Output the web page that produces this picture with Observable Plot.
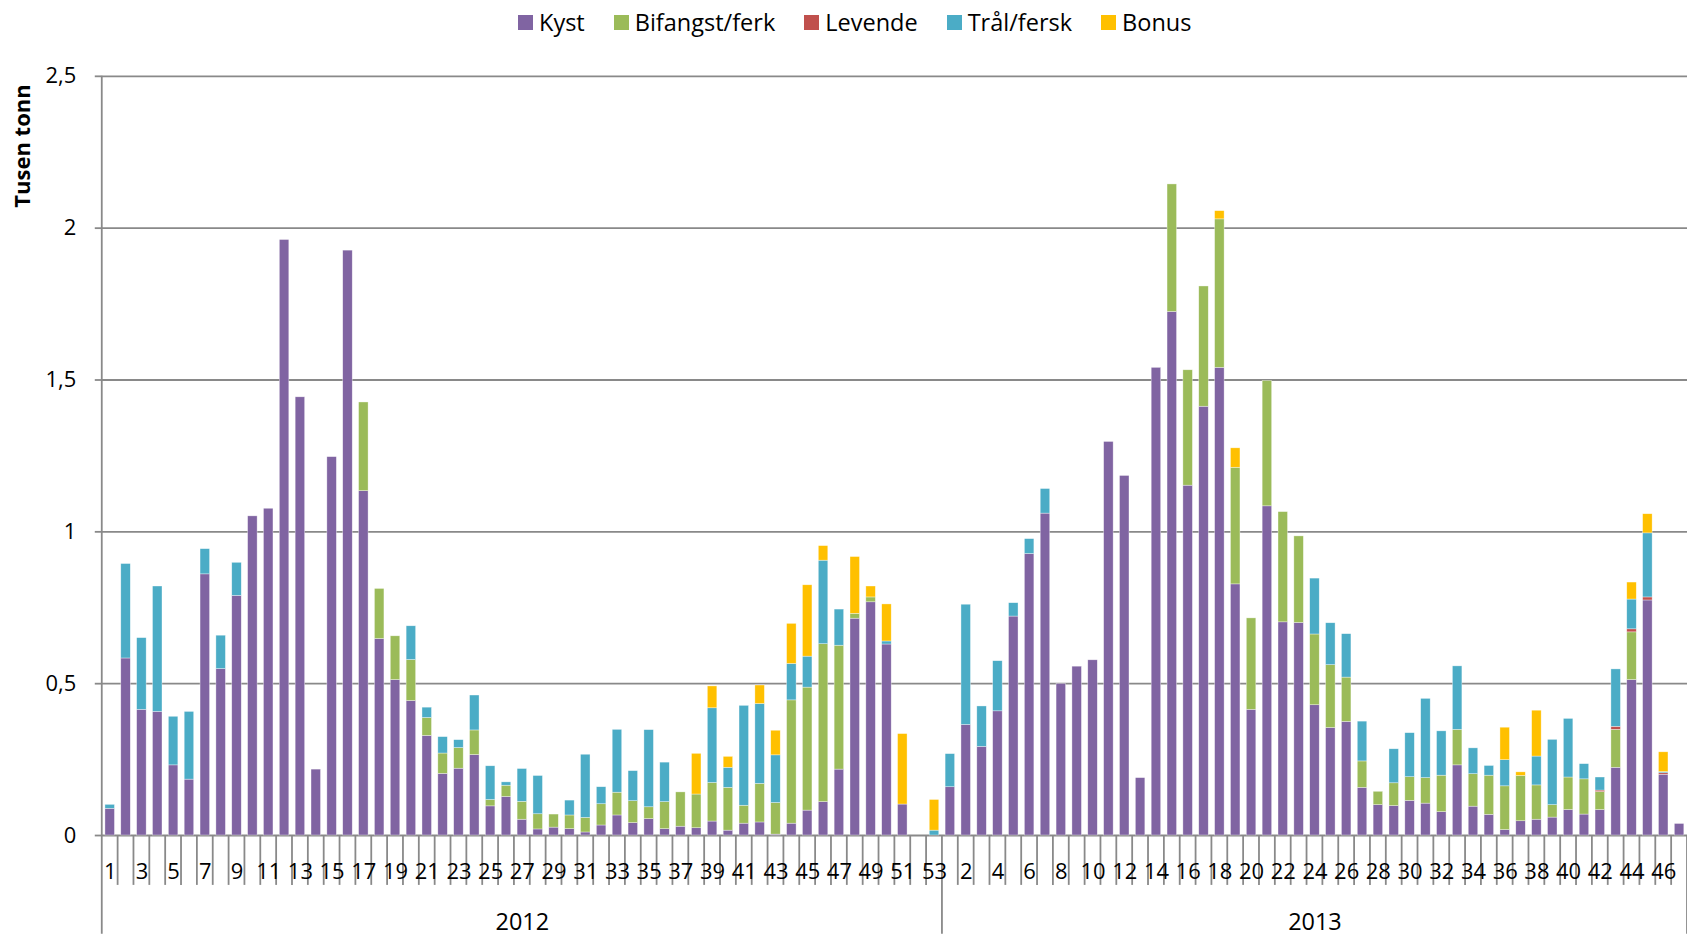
<!DOCTYPE html>
<html><head><meta charset="utf-8">
<script src="https://cdn.jsdelivr.net/npm/d3@7"></script>
<script src="https://cdn.jsdelivr.net/npm/@observablehq/plot@0.6"></script>
<style>
html,body{margin:0;padding:0;background:#fff;overflow:hidden;}
#wrap{position:relative;width:1687px;height:936px;overflow:hidden;font-family:"Open Sans",sans-serif;color:#000;}
#legend{position:absolute;top:6px;left:518px;display:flex;align-items:center;font-size:23.5px;white-space:nowrap;}
.item{display:flex;align-items:center;margin-right:29px;}
.sw{width:15px;height:15px;margin-right:6px;}
#ytitle{position:absolute;left:21px;top:146px;transform:translate(-50%,-50%) rotate(-90deg);font-weight:bold;font-size:22px;white-space:nowrap;}
</style></head>
<body><div id="wrap"><div id="chart"></div><div id="legend"></div><div id="ytitle">Tusen tonn</div></div>
<script>
const seriesNames = ["Kyst", "Bifangst/ferk", "Levende", "Trål/fersk", "Bonus"];
const seriesColors = ["#8064A2", "#9BBB59", "#C0504D", "#4BACC6", "#FFC000"];
const years = ["2012", "2013"];
const weeks2012 = d3.range(1, 54);
const weeks2013 = d3.range(1, 48);
const yTicks = [0, 0.5, 1, 1.5, 2, 2.5];

const kyst2012 = [0.088,0.583,0.414,0.407,0.231,0.184,0.860,0.548,0.789,1.051,1.076,1.961,1.443,0.217,1.246,1.926,1.134,0.647,0.512,0.443,0.328,0.203,0.220,0.265,0.096,0.127,0.052,0.020,0.026,0.021,0.010,0.033,0.066,0.041,0.054,0.021,0.029,0.024,0.046,0.016,0.039,0.043,0.003,0.039,0.082,0.110,0.217,0.714,0.768,0.629,0.102,0,0];
const bifangst2012 = [0,0,0,0,0,0,0,0,0,0,0,0,0,0,0,0,0.292,0.165,0.144,0.135,0.059,0.067,0.068,0.081,0.021,0.037,0.059,0.050,0.043,0.045,0.048,0.070,0.075,0.072,0.039,0.089,0.113,0.111,0.127,0.141,0.059,0.127,0.104,0.406,0.405,0.520,0.408,0.016,0.016,0,0,0,0];
const levende2012 = [0,0,0,0,0,0,0,0,0,0,0,0,0,0,0,0,0,0,0,0,0,0,0,0,0,0,0,0,0,0,0,0,0,0,0,0,0,0,0,0,0,0,0,0,0,0,0,0,0,0,0,0,0];
const tral2012 = [0.013,0.311,0.236,0.413,0.160,0.223,0.083,0.110,0.109,0,0,0,0,0,0,0,0,0,0,0.111,0.034,0.054,0.026,0.115,0.111,0.011,0.108,0.126,0,0.049,0.208,0.056,0.207,0.099,0.254,0.130,0,0,0.246,0.066,0.329,0.263,0.157,0.120,0.102,0.275,0.119,0,0,0.010,0,0,0.016];
const bonus2012 = [0,0,0,0,0,0,0,0,0,0,0,0,0,0,0,0,0,0,0,0,0,0,0,0,0,0,0,0,0,0,0,0,0,0,0,0,0,0.134,0.072,0.036,0,0.061,0.081,0.132,0.235,0.048,0,0.187,0.036,0.122,0.232,0,0.101];

const kyst2013 = [0.159,0.364,0.292,0.409,0.721,0.927,1.060,0.499,0.556,0.577,1.296,1.184,0.189,1.540,1.724,1.152,1.412,1.540,0.827,0.414,1.084,0.702,0.700,0.429,0.354,0.374,0.157,0.100,0.097,0.114,0.105,0.077,0.231,0.095,0.068,0.018,0.047,0.052,0.059,0.084,0.069,0.084,0.223,0.512,0.774,0.200,0.038];
const bifangst2013 = [0,0,0,0,0,0,0,0,0,0,0,0,0,0,0.420,0.380,0.396,0.489,0.384,0.301,0.413,0.363,0.285,0.233,0.207,0.146,0.087,0.044,0.075,0.078,0.084,0.120,0.117,0.107,0.129,0.144,0.149,0.113,0.041,0.107,0.116,0.059,0.125,0.157,0,0,0];
const levende2013 = [0,0,0,0,0,0,0,0,0,0,0,0,0,0,0,0,0,0,0,0,0,0,0,0,0,0,0,0,0,0,0,0,0,0,0,0,0,0,0,0,0,0.005,0.010,0.010,0.010,0.005,0];
const tral2013 = [0.109,0.396,0.133,0.165,0.044,0.049,0.081,0,0,0,0,0,0,0,0,0,0,0,0,0,0,0,0,0.184,0.138,0.143,0.131,0,0.112,0.145,0.261,0.146,0.209,0.085,0.032,0.086,0,0.095,0.215,0.193,0.050,0.043,0.189,0.098,0.211,0.004,0];
const bonus2013 = [0,0,0,0,0,0,0,0,0,0,0,0,0,0,0,0,0,0.027,0.064,0,0,0,0,0,0,0,0,0,0,0,0,0,0,0,0,0.107,0.012,0.151,0,0,0,0,0,0.056,0.063,0.065,0];

const byYear = {
  "2012": {weeks: weeks2012, series: [kyst2012, bifangst2012, levende2012, tral2012, bonus2012]},
  "2013": {weeks: weeks2013, series: [kyst2013, bifangst2013, levende2013, tral2013, bonus2013]}
};

const cats = [];
const rows = [];
for (const yr of years) {
  const {weeks, series} = byYear[yr];
  weeks.forEach((w, i) => {
    const key = yr + "-" + w;
    cats.push(key);
    series.forEach((arr, s) => {
      if (arr[i] > 0) rows.push({key, year: yr, week: w, series: seriesNames[s], value: arr[i]});
    });
  });
}
const yearLabels = years.map(yr => {
  const ws = byYear[yr].weeks;
  return {year: yr, mid: yr + "-" + ws[Math.floor(ws.length / 2)]};
});
const labelCats = cats.filter((d, i) => i % 2 === 0);
const fmt = d => String(d).replace(".", ",");
const gridColor = "#898989";

const chart = Plot.plot({
  width: 1691, height: 936,
  marginLeft: 102, marginRight: 0, marginTop: 76, marginBottom: 99,
  style: {fontFamily: "'Open Sans', sans-serif", fontSize: "22px", color: "#000", background: "white"},
  x: {type: "band", domain: cats, paddingInner: 0.4, paddingOuter: 0.2, axis: null},
  y: {domain: [0, 2.5], axis: null},
  color: {domain: seriesNames, range: seriesColors},
  marks: [
    Plot.ruleY(yTicks, {stroke: gridColor, strokeWidth: 1.8}),
    Plot.axisY(yTicks, {anchor: "left", tickSize: 7, tickPadding: 19, tickFormat: fmt, stroke: gridColor, strokeWidth: 1.8, fontSize: 22, label: null}),
    Plot.barY(rows, {x: "key", y: "value", fill: "series", order: seriesNames, stroke: "#fff", strokeWidth: 0.6, strokeOpacity: 0.6}),
    Plot.axisX(labelCats, {anchor: "bottom", tickSize: 0, tickPadding: 28, tickFormat: k => k.split("-")[1], fontSize: 22, label: null}),
    Plot.text(yearLabels, {x: "mid", text: "year", frameAnchor: "bottom", dy: 95, fontSize: 23.5})
  ]
});

// category separators & year separators drawn from the band scale
const xs = chart.scale("x");
const ysc = chart.scale("y");
const half = (xs.step - xs.bandwidth) / 2;
const yZero = ysc.apply(0), yTop = ysc.apply(2.5);
const g = d3.select(chart).insert("g", ":first-child").attr("stroke", gridColor).attr("stroke-width", 1.8);
let start = 0;
const groupStarts = new Set();
for (const yr of years) { groupStarts.add(start); start += byYear[yr].weeks.length; }
groupStarts.add(start);
for (let i = 0; i <= cats.length; i++) {
  const bx = (i < cats.length ? xs.apply(cats[i]) : xs.apply(cats[cats.length - 1]) + xs.step) - half;
  const isGroup = groupStarts.has(i);
  g.append("line").attr("x1", bx).attr("x2", bx)
    .attr("y1", i === 0 ? yTop : yZero)
    .attr("y2", isGroup ? 936 : yZero + 50);
}

document.getElementById("chart").appendChild(chart);

const legend = d3.select("#legend");
seriesNames.forEach((n, i) => {
  const it = legend.append("div").attr("class", "item");
  it.append("div").attr("class", "sw").style("background", seriesColors[i]);
  it.append("span").text(n);
});
</script>
</body></html>
